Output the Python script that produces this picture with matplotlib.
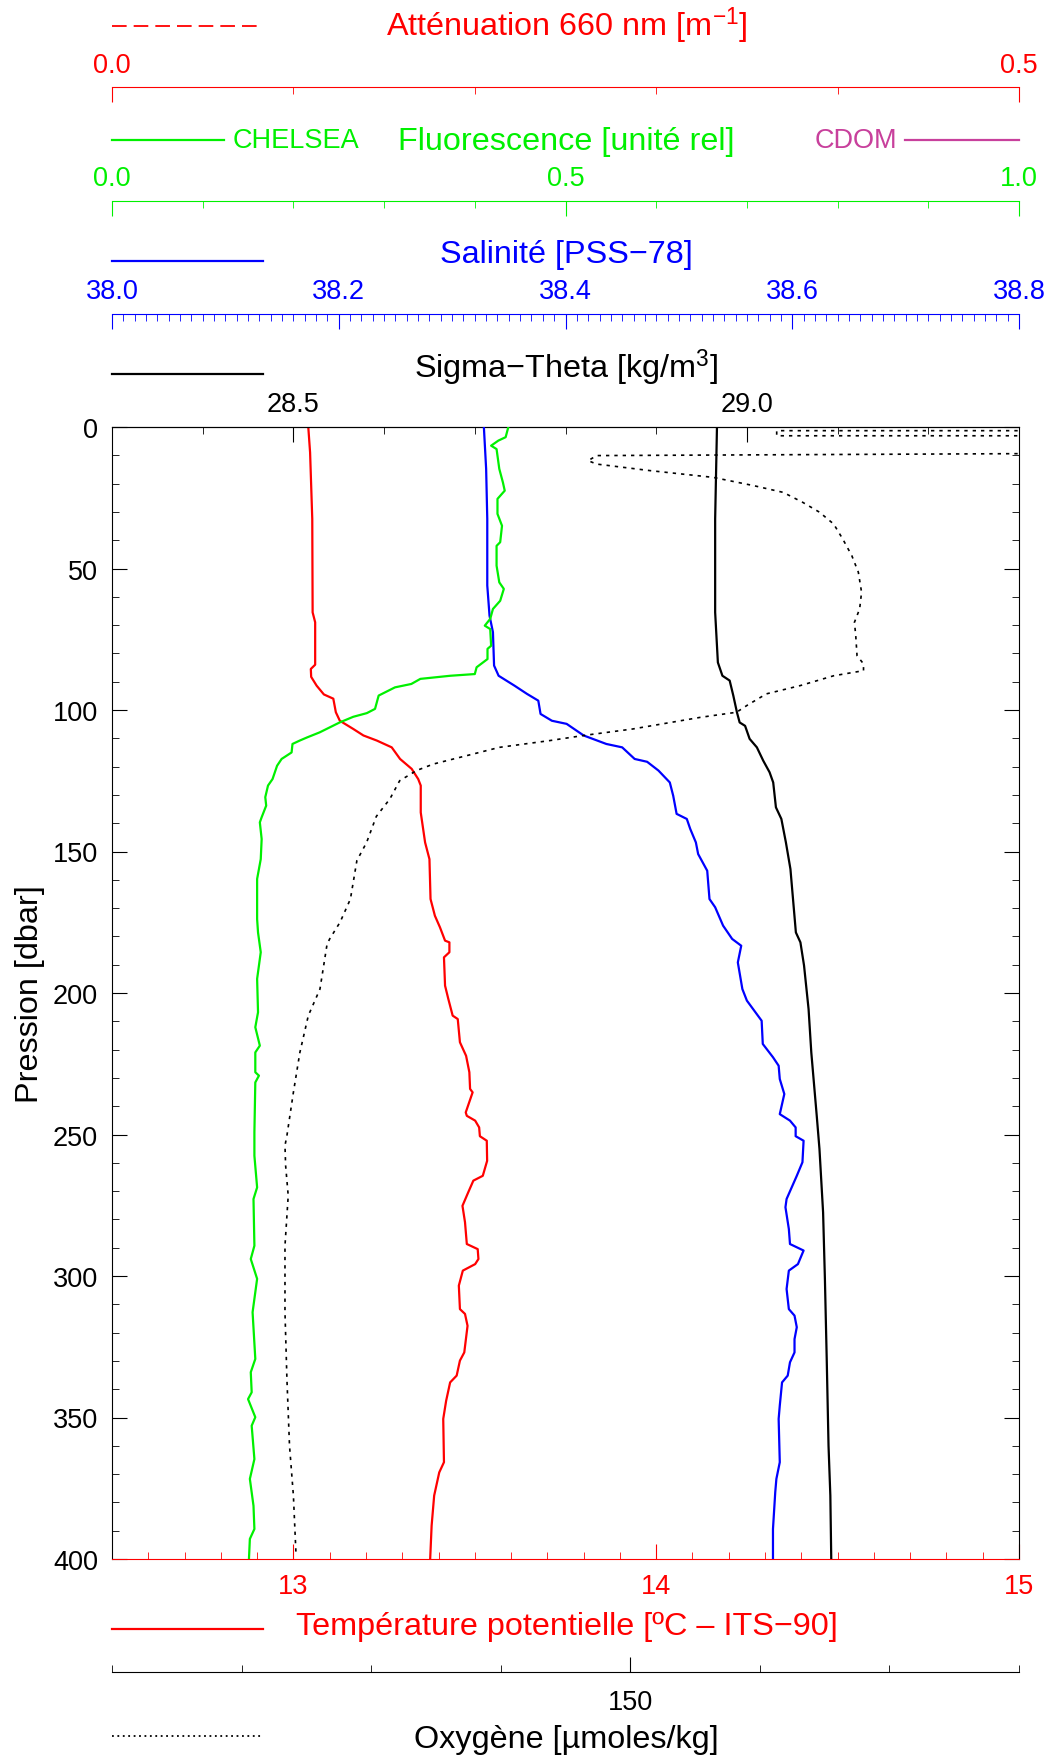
import matplotlib
matplotlib.use('Agg')
import matplotlib.pyplot as plt
from matplotlib.lines import Line2D
from matplotlib.ticker import MultipleLocator, FixedLocator, FormatStrFormatter

plt.rcParams['font.family'] = ['Liberation Sans', 'DejaVu Sans']
plt.rcParams['mathtext.fontset'] = 'custom'
plt.rcParams['mathtext.rm'] = 'Liberation Sans'
plt.rcParams['mathtext.it'] = 'Liberation Sans:italic'

# profils (pression en dbar)
temp_p = [0, 9, 32.5, 65.5, 69, 84, 85.5, 88.3, 91.4, 94.5, 96, 100.8, 103.8, 106.7, 109,
          110.8, 113.2, 117.3, 120.8, 124.4, 126.7, 136.2, 146.8, 152.7, 166.8, 172.7, 176.8,
          181.5, 182.1, 185.6, 187.4, 197.4, 202.1, 208, 209.2, 217.4, 222.2, 228, 233.9,
          235.1, 242.2, 243.4, 245.1, 247.5, 250.6, 252.2, 259.3, 264.6, 266.3, 270.4, 274.6,
          275.2, 281, 288.7, 290.5, 294, 295.8, 298.1, 301, 303.4, 311.7, 313.4, 317.6, 327,
          329.9, 335.2, 337.6, 344.1, 350.5, 365.8, 369.4, 377.6, 388.2, 400]
temp = [13.041, 13.046, 13.052, 13.053, 13.060, 13.060, 13.048, 13.049, 13.064, 13.084,
        13.110, 13.117, 13.128, 13.165, 13.193, 13.230, 13.271, 13.294, 13.326, 13.344,
        13.351, 13.351, 13.363, 13.375, 13.378, 13.390, 13.404, 13.418, 13.430, 13.430,
        13.415, 13.418, 13.427, 13.439, 13.453, 13.459, 13.476, 13.485, 13.487, 13.494,
        13.475, 13.478, 13.501, 13.512, 13.514, 13.533, 13.534, 13.522, 13.496, 13.482,
        13.468, 13.466, 13.473, 13.478, 13.508, 13.510, 13.501, 13.467, 13.461, 13.456,
        13.459, 13.473, 13.480, 13.471, 13.459, 13.450, 13.432, 13.421, 13.413, 13.415,
        13.402, 13.388, 13.381, 13.377]

sal_p = [0, 14.8, 32.5, 56, 66.7, 72.5, 84.3, 87.9, 91.4, 94.3, 96.7, 101.4, 103.8, 104.9,
         109, 112, 113.2, 117.3, 118.3, 121.4, 125.6, 130.3, 136.7, 138.5, 142, 146.8, 150.9,
         156.8, 166.8, 169.7, 176.2, 180.9, 183.3, 189.2, 198.6, 202.7, 209.8, 218, 222.7,
         225.7, 230.4, 235.7, 242.8, 245.1, 247.5, 250.6, 252.2, 259.8, 264.6, 272.8, 275.7,
         283.4, 288.7, 291, 295.8, 298.1, 304.6, 311.7, 314, 318.1, 322.3, 327, 330.5, 335.2,
         337.6, 345.8, 350.5, 365.8, 371.7, 376.4, 389.4, 400]
sal = [38.328, 38.330, 38.331, 38.331, 38.333, 38.336, 38.337, 38.341, 38.355, 38.366,
       38.376, 38.378, 38.388, 38.401, 38.416, 38.436, 38.450, 38.461, 38.472, 38.482,
       38.492, 38.495, 38.498, 38.507, 38.510, 38.515, 38.517, 38.525, 38.527, 38.532,
       38.539, 38.547, 38.555, 38.552, 38.556, 38.560, 38.573, 38.574, 38.583, 38.588,
       38.589, 38.593, 38.589, 38.598, 38.603, 38.603, 38.610, 38.609, 38.604, 38.595,
       38.594, 38.597, 38.598, 38.610, 38.605, 38.597, 38.595, 38.597, 38.602, 38.604,
       38.602, 38.602, 38.598, 38.596, 38.591, 38.589, 38.588, 38.589, 38.586, 38.585,
       38.583, 38.583]

sig_p = [0, 32.5, 65.5, 83.2, 87.9, 89.6, 94.9, 100.8, 104.4, 105.6, 110.2, 113.2, 117.9,
         122, 125.6, 134.4, 138.5, 146.8, 156.2, 178.6, 182.1, 190.3, 205.7, 221, 243.4,
         255.1, 277.5, 301, 329.3, 360, 377.6, 400]
sigma = [28.967, 28.965, 28.965, 28.968, 28.973, 28.981, 28.985, 28.989, 28.992, 28.998,
         29.003, 29.011, 29.018, 29.025, 29.029, 29.032, 29.038, 29.043, 29.048, 29.054,
         29.059, 29.063, 29.068, 29.071, 29.077, 29.080, 29.084, 29.086, 29.088, 29.090,
         29.092, 29.093]

fluo_p = [0, 3.6, 4.8, 6.6, 7.8, 14.8, 19.6, 22.5, 25.4, 30.7, 34.9, 40.7, 42, 49, 54.9,
          57.2, 61.4, 64.3, 67.8, 70.2, 71.4, 77.3, 78.4, 82, 84.9, 87.3, 87.9, 89, 90.8, 92,
          94.9, 99.6, 101.1, 102.4, 104.4, 107.9, 109.7, 110.8, 112, 115, 117.3, 119.7, 124.4,
          126.7, 130.8, 133.8, 137.9, 139.7, 145.6, 152.7, 159.7, 173.9, 178.6, 185.6, 195,
          206.8, 212.1, 218.6, 221, 228, 229.2, 231.6, 249.2, 257.5, 268.7, 272.8, 289.3, 294,
          301, 312.8, 329.3, 334, 341.1, 343.5, 349.9, 352.9, 364.7, 371.7, 381.2, 389.4,
          392.9, 400]
fluo = [0.437, 0.434, 0.426, 0.418, 0.424, 0.427, 0.431, 0.433, 0.425, 0.425, 0.430, 0.428,
        0.424, 0.424, 0.427, 0.432, 0.428, 0.420, 0.417, 0.411, 0.417, 0.418, 0.414, 0.414,
        0.402, 0.400, 0.373, 0.340, 0.330, 0.312, 0.294, 0.290, 0.281, 0.266, 0.251, 0.229,
        0.215, 0.207, 0.199, 0.198, 0.187, 0.182, 0.177, 0.172, 0.169, 0.170, 0.165, 0.163,
        0.165, 0.164, 0.160, 0.160, 0.161, 0.164, 0.160, 0.161, 0.158, 0.163, 0.158, 0.158,
        0.162, 0.158, 0.157, 0.157, 0.160, 0.156, 0.157, 0.153, 0.160, 0.155, 0.158, 0.153,
        0.154, 0.150, 0.158, 0.154, 0.157, 0.152, 0.156, 0.157, 0.152, 0.151]

# oxygene : les valeurs de surface sortent de l'echelle (200 = hors cadre)
oxy_p = [1.3, 1.3, 3.1, 3.1, 9.0, 10.1, 11.9, 13.1, 15.4, 17.8, 20.7, 23.1, 26.6, 30.1, 34.3,
         39.6, 45.5, 51.3, 58.4, 64.3, 69, 73.7, 80.8, 83.7, 86.1, 87.9, 91.4, 94.3, 98.4,
         100.8, 102.6, 106.7, 109, 110.8, 113.2, 116.1, 119.1, 121.4, 125, 131.4, 137.6,
         146.8, 153.2, 166.8, 175, 180.9, 182.7, 198.6, 208, 221, 235.1, 250.4, 253.9, 261,
         271.6, 289.3, 312.8, 336.4, 360, 377.6, 398.2]
oxy = [200, 161.3, 161.3, 200, 200, 147.4, 146.75, 147.4, 151.5, 156.4, 159.5, 161.8, 163.3,
       164.6, 165.7, 166.4, 167.1, 167.6, 167.85, 167.7, 167.3, 167.4, 167.5, 168.0, 168.0,
       165.7, 163.1, 160.5, 159.0, 158.2, 155.4, 150.2, 146.4, 143.8, 139.9, 137.4, 134.8,
       133.5, 132.2, 131.45, 130.4, 129.65, 128.9, 128.4, 127.6, 126.8, 126.6, 126.05,
       125.15, 124.5, 124.0, 123.5, 123.35, 123.4, 123.6, 123.35, 123.35, 123.5, 123.7,
       124.0, 124.2]

GREEN = '#00f000'
CDOM = '#c8409c'
TICK = 19.5
TITLE = 23.3
MAJ, MIN = 10.5, 5

fig = plt.figure(figsize=(10.5, 17.58), dpi=100)
ax = fig.add_axes([112 / 1050, 198 / 1758, 907 / 1050, 1132 / 1758])


def style_twin(a, side, pos, color, lim, majors, minor, fmt):
    for s in a.spines.values():
        s.set_visible(False)
    a.spines[side].set_visible(True)
    a.spines[side].set_color(color)
    if pos is not None:
        a.spines[side].set_position(('axes', pos))
    a.set_xlim(*lim)
    a.xaxis.set_major_locator(FixedLocator(majors))
    a.xaxis.set_minor_locator(MultipleLocator(minor))
    a.xaxis.set_major_formatter(FormatStrFormatter(fmt))
    a.tick_params(axis='x', which='both', direction='in', colors=color,
                  labelsize=TICK, pad=7)
    a.tick_params(axis='x', which='major', length=MAJ)
    a.tick_params(axis='x', which='minor', length=MIN)


# pression / temperature
ax.set_ylim(400, 0)
ax.set_xlim(12.5, 15)
ax.yaxis.set_major_locator(MultipleLocator(50))
ax.yaxis.set_minor_locator(MultipleLocator(10))
ax.tick_params(axis='y', which='both', direction='in', left=True, right=True,
               labelsize=TICK, pad=10)
ax.tick_params(axis='y', which='major', length=MAJ)
ax.tick_params(axis='y', which='minor', length=MIN)
ax.set_ylabel('Pression [dbar]', fontsize=TITLE, labelpad=6)

ax_sig = ax.twiny()
ax_sal = ax.twiny()
ax_flu = ax.twiny()
ax_att = ax.twiny()
ax_oxy = ax.twiny()
ax_oxy.xaxis.tick_bottom()
ax.xaxis.tick_bottom()

ax.xaxis.set_major_locator(FixedLocator([13, 14, 15]))
ax.xaxis.set_minor_locator(MultipleLocator(0.1))
ax.tick_params(axis='x', which='both', direction='in', colors='red',
               labelsize=TICK, pad=10)
ax.tick_params(axis='x', which='major', length=MAJ)
ax.tick_params(axis='x', which='minor', length=MIN)
ax.spines['bottom'].set_color('red')

style_twin(ax_sig, 'top', None, 'black', (28.3, 29.3), [28.5, 29.0], 0.1, '%.1f')
style_twin(ax_sal, 'top', 1.1, 'blue', (38.0, 38.8), [38.0, 38.2, 38.4, 38.6, 38.8],
           0.01, '%.1f')
style_twin(ax_flu, 'top', 1.2, GREEN, (0, 1), [0, 0.5, 1.0], 0.1, '%.1f')
style_twin(ax_att, 'top', 1.3, 'red', (0, 0.5), [0, 0.5], 0.1, '%.1f')
style_twin(ax_oxy, 'bottom', -0.1, 'black', (110, 180), [150], 10, '%d')
ax_oxy.tick_params(axis='x', labelsize=TICK, pad=12)

ax_oxy.plot(oxy, oxy_p, color='black', lw=1.2, linestyle=(0, (2, 3)))
ax_flu.plot(fluo, fluo_p, color=GREEN, lw=1.6)
ax.plot(temp, temp_p, color='red', lw=1.6)
ax_sal.plot(sal, sal_p, color='blue', lw=1.6)
ax_sig.plot(sigma, sig_p, color='black', lw=1.6)

# titres et traits de legende
xc = 566.5 / 1050
x0, x1 = 112 / 1050, 263 / 1050


def fy(px):
    return 1 - px / 1758


fig.text(xc, fy(26.7), 'Atténuation 660 nm [m$^{-1}$]', color='red', fontsize=TITLE,
         ha='center', va='center')
fig.text(xc, fy(141.7), 'Fluorescence [unité rel]', color=GREEN, fontsize=TITLE,
         ha='center', va='center')
fig.text(xc, fy(255), 'Salinité [PSS\u221278]', color='blue', fontsize=TITLE,
         ha='center', va='center')
fig.text(xc, fy(368), 'Sigma\u2212Theta [kg/m$^3$]', color='black', fontsize=TITLE,
         ha='center', va='center')
fig.text(xc, fy(1626.7), 'Température potentielle [ºC \u2013 ITS\u221290]', color='red',
         fontsize=TITLE, ha='center', va='center')
fig.text(xc, fy(1740), 'Oxygène [µmoles/kg]', color='black', fontsize=TITLE,
         ha='center', va='center')
fig.text(233 / 1050, fy(140.7), 'CHELSEA', color=GREEN, fontsize=TICK,
         ha='left', va='center')
fig.text(897 / 1050, fy(140.7), 'CDOM', color=CDOM, fontsize=TICK,
         ha='right', va='center')

fig.add_artist(Line2D([x0, x1], [fy(26.7)] * 2, color='red', lw=1.3,
                      linestyle=(0, (8.1, 3.9))))
fig.add_artist(Line2D([x0, 224 / 1050], [fy(140.7)] * 2, color=GREEN, lw=1.6))
fig.add_artist(Line2D([905 / 1050, 1019 / 1050], [fy(140.7)] * 2, color=CDOM, lw=1.6))
fig.add_artist(Line2D([x0, x1], [fy(261.7)] * 2, color='blue', lw=1.6))
fig.add_artist(Line2D([x0, x1], [fy(375)] * 2, color='black', lw=1.6))
fig.add_artist(Line2D([x0, x1], [fy(1630)] * 2, color='red', lw=1.6))
fig.add_artist(Line2D([x0, x1], [fy(1737)] * 2, color='black', lw=1.3,
                      linestyle=(0, (1, 2))))

fig.savefig('out.png', dpi=100)
